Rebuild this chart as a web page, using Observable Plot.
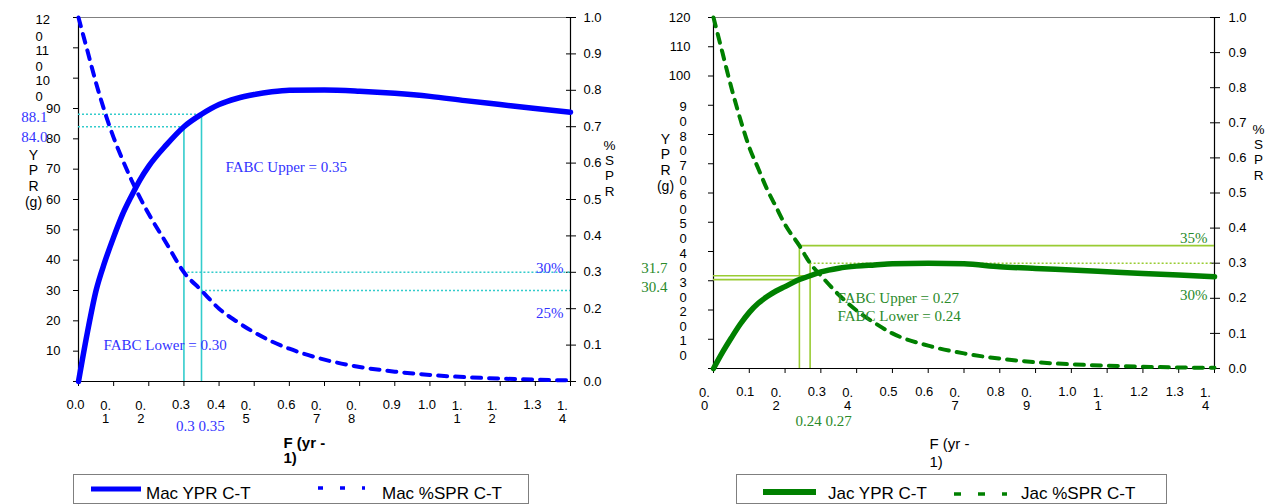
<!DOCTYPE html>
<html><head><meta charset="utf-8">
<script src="https://cdn.jsdelivr.net/npm/d3@7"></script>
<script src="https://cdn.jsdelivr.net/npm/@observablehq/plot@0.6"></script>
<style>
html,body{margin:0;padding:0;background:#fff;}
#wrap{position:relative;width:1270px;height:504px;overflow:hidden;font-family:"Liberation Sans",Arial,sans-serif;}
.panel{position:absolute;top:0;}
.legend{position:absolute;top:474px;height:30px;border:1px solid #7f7f7f;box-sizing:border-box;background:#fff;}
.legend span{position:absolute;font-size:17px;line-height:17px;color:#000;white-space:nowrap;}
.legend svg{position:absolute;left:0;top:0;}
</style></head><body><div id="wrap"></div>
<script>
// ---------- data ----------
const macF   = [0,0.025,0.05,0.075,0.1,0.125,0.15,0.175,0.2,0.25,0.3,0.35,0.4,0.45,0.5,0.55,0.6,0.7,0.8,0.9,1.0,1.1,1.2,1.3,1.4];
const macYPR = [0,16,30,39.5,47.6,55,61,66.5,71,78,84,88.1,91.3,93.3,94.6,95.5,96,96.1,95.7,95,94,92.6,91.3,90,88.8];
const macSPR = [1.0,0.91,0.82,0.74,0.67,0.61,0.555,0.505,0.46,0.38,0.30,0.25,0.20,0.165,0.135,0.11,0.09,0.06,0.04,0.027,0.018,0.012,0.008,0.005,0.003];

const jacF   = [0,0.025,0.05,0.075,0.1,0.125,0.15,0.175,0.2,0.24,0.27,0.3,0.35,0.4,0.45,0.5,0.6,0.7,0.8,0.9,1.0,1.1,1.2,1.3,1.4];
const jacYPR = [0,5.5,10.5,15.2,19.2,22.3,24.6,26.5,28,30.4,31.7,33,34.3,35,35.4,35.8,36,35.8,34.8,34.2,33.7,33.1,32.5,32,31.4];
const jacSPR = [1.0,0.90,0.80,0.71,0.63,0.57,0.51,0.46,0.41,0.35,0.30,0.265,0.21,0.165,0.13,0.10,0.065,0.043,0.028,0.018,0.012,0.008,0.005,0.003,0.002];

// reference points (FABC)
const macRefF   = [0.30, 0.35];
const macRefYPR = [84.0, 88.1];
const macRefSPR = [0.30, 0.25];
const jacRefF   = [0.24, 0.27];
const jacRefYPR = [30.4, 31.7];
const jacRefSPR = [0.35, 0.30];

// ticks and tick labels
const xTicks = [0,0.1,0.2,0.3,0.4,0.5,0.6,0.7,0.8,0.9,1.0,1.1,1.2,1.3,1.4];
const macXLabels = ["0.0","0.\n1","0.\n2","0.3","0.4","0.\n5","0.6","0.\n7","0.\n8","0.9","1.0","1.\n1","1.\n2","1.3","1.\n4"];
const jacXLabels = ["0.\n0","0.1","0.\n2","0.3","0.\n4","0.5","0.6","0.\n7","0.8","0.\n9","1.0","1.\n1","1.2","1.3","1.\n4"];
const yTicks = [0,10,20,30,40,50,60,70,80,90,100,110,120];
const macYLabels = ["","10","20","30","40","50","60","70","80","90","10\n0","11\n0","12\n0"];
const jacYLabels = ["","1\n0","2\n0","3\n0","4\n0","5\n0","6\n0","7\n0","8\n0","9\n0","100","110","120"];
const sprTicks = [0,0.1,0.2,0.3,0.4,0.5,0.6,0.7,0.8,0.9,1.0];
const sprLabels = ["0.0","0.1","0.2","0.3","0.4","0.5","0.6","0.7","0.8","0.9","1.0"];

const YMAX = 120, XMAX = 1.4;
const SANS = "Liberation Sans, Arial, sans-serif";
const SERIF = "Liberation Serif, Times New Roman, serif";

function panel(o) {
  const curve = o.F.map((f, i) => ({f, ypr: o.YPR[i], spr: o.SPR[i]}));
  const refs = o.refF.map((f, i) => ({f, ypr: o.refYPR[i], spr: o.refSPR[i]}));
  const xt = xTicks.map((v, i) => ({v, label: o.xLabels[i]}));
  const yt = yTicks.map((v, i) => ({v, label: o.yLabels[i]}));
  const st = sprTicks.map((v, i) => ({v: v * YMAX, label: sprLabels[i]}));
  const wrapped = d => d.label.includes("\n");
  const plain = d => !d.label.includes("\n");
  return Plot.plot({
    width: 635, height: 470,
    marginLeft: o.mL, marginRight: o.mR, marginTop: 17, marginBottom: o.mB,
    x: {domain: [0, XMAX]},
    y: {domain: [0, YMAX]},
    style: {fontFamily: SANS, fontSize: "13px", background: "transparent", overflow: "visible"},
    marks: [
      // frame
      Plot.ruleY([YMAX], {stroke: "#808080", strokeWidth: 1.2}),
      Plot.ruleX([0], {stroke: "#000", strokeWidth: 1.2}),
      Plot.ruleX([XMAX], {stroke: "#000", strokeWidth: 1.2}),
      Plot.ruleY([0], {stroke: "#000", strokeWidth: 1.2}),
      Plot.axisY({ticks: yTicks, tickSize: 5, fill: "none", label: null, stroke: "#000"}),
      Plot.axisY({anchor: "right", ticks: sprTicks.map(v => v * YMAX), tickSize: 10, dx: -5, fill: "none", label: null, stroke: "#000"}),
      Plot.axisX({ticks: xTicks, tickSize: 5, fill: "none", label: null, stroke: "#000"}),
      // tick labels
      Plot.text(xt, {filter: plain, x: "v", text: "label", frameAnchor: "bottom", textAnchor: "middle", lineAnchor: "top", dy: 18.5, dx: o.xdxPlain, fontSize: 13, fill: "#000"}),
      Plot.text(xt, {filter: wrapped, x: "v", text: "label", frameAnchor: "bottom", textAnchor: "middle", lineAnchor: "top", dy: 18.5, dx: o.xdxWrap, lineHeight: 1.05, fontSize: 13, fill: "#000"}),
      Plot.text(yt, {filter: d => d.label && plain(d), y: "v", text: "label", frameAnchor: "left", textAnchor: "end", dx: o.ydxPlain, fontSize: 13, fill: "#000"}),
      Plot.text(yt, {filter: wrapped, y: "v", text: "label", frameAnchor: "left", textAnchor: "start", lineAnchor: "top", dy: -4.6, dx: o.ydxWrap, lineHeight: o.yLH, fontSize: 13, fill: "#000"}),
      Plot.text(st, {y: "v", text: "label", frameAnchor: "right", textAnchor: "start", dx: o.rdx, fontSize: 13, fill: "#000"}),
      // axis titles
      Plot.text(["Y\nP\nR\n(g)"], {text: d => d, frameAnchor: "top-left", textAnchor: "middle", dx: o.ytDx, dy: o.ytDy, lineAnchor: "top", lineHeight: 1.12, fontSize: 14, fill: "#000"}),
      Plot.text(["%\nS\nP\nR"], {text: d => d, frameAnchor: "top-right", textAnchor: "middle", dx: o.rtDx, dy: o.rtDy, lineAnchor: "top", lineHeight: 1.12, fontSize: 13.5, fill: "#000"}),
      Plot.text(["F (yr -\n1)"], {text: d => d, frameAnchor: "bottom-left", textAnchor: "start", dx: o.xtDx, dy: o.xtDy, lineAnchor: "top", lineHeight: o.xtLH, fontSize: 15, fontWeight: o.xtWeight, fill: "#000"}),
      // reference lines
      Plot.ruleX(refs, {x: "f", y1: 0, y2: o.vTop === "spr" ? (d => d.spr * YMAX) : "ypr", stroke: o.refColor, strokeWidth: 1.6}),
      Plot.ruleY(refs, {y: "ypr", x1: 0, x2: o.hEnd, stroke: o.refColor, strokeWidth: 1.6, strokeDasharray: o.yprDash}),
      Plot.ruleY(refs, {filter: (d, i) => i === 0, y: d => d.spr * YMAX, x1: "f", x2: XMAX, stroke: o.refColor, strokeWidth: 1.6, strokeDasharray: o.spr0Dash}),
      Plot.ruleY(refs, {filter: (d, i) => i === 1, y: d => d.spr * YMAX, x1: "f", x2: XMAX, stroke: o.refColor, strokeWidth: 1.6, strokeDasharray: o.spr1Dash}),
      // series
      Plot.line(curve, {x: "f", y: d => d.spr * YMAX, stroke: o.color, strokeWidth: 4, strokeDasharray: "9,8", curve: "monotone-x"}),
      Plot.line(curve, {x: "f", y: "ypr", stroke: o.color, strokeWidth: 5.5, curve: "monotone-x"}),
      // annotations
      ...o.annotations(refs)
    ]
  });
}

const blueTxt = "#3333ff", greenTxt = "#2a8a2a";
const ann = (data, opts, color) => Plot.text(data, {fontFamily: SERIF, fontSize: 15, fill: color, ...opts});

const left = panel({
  F: macF, YPR: macYPR, SPR: macSPR, refF: macRefF, refYPR: macRefYPR, refSPR: macRefSPR,
  xLabels: macXLabels, yLabels: macYLabels, color: "#0000ff", refColor: "#33cccc",
  mL: 78, mR: 65, mB: 89,
  xdxPlain: -3, xdxWrap: -8, ydxPlain: -18, ydxWrap: -43, yLH: 1.25, rdx: 13,
  ytDx: -45, ytDy: 131, rtDx: 39, rtDy: 122,
  xtDx: 205, xtDy: 55.5, xtLH: 1.0, xtWeight: "bold",
  vTop: "ypr", hEnd: "f", yprDash: "2,2", spr0Dash: "2,2", spr1Dash: "2,2",
  annotations: refs => [
    ann([`FABC Upper = ${refs[1].f.toFixed(2)}`], {text: d => d, frameAnchor: "top-left", textAnchor: "start", dx: 147, dy: 144}, blueTxt),
    ann([`FABC Lower = ${refs[0].f.toFixed(2)}`], {text: d => d, frameAnchor: "top-left", textAnchor: "start", dx: 25, dy: 322}, blueTxt),
    ann([refs[0]], {y: d => d.spr * YMAX, text: d => Math.round(d.spr * 100) + "%", frameAnchor: "right", textAnchor: "end", dx: -7, dy: -4}, blueTxt),
    ann([refs[1]], {y: d => d.spr * YMAX, text: d => Math.round(d.spr * 100) + "%", frameAnchor: "right", textAnchor: "end", dx: -7, dy: 23}, blueTxt),
    ann([refs[1]], {y: "ypr", text: d => d.ypr.toFixed(1), frameAnchor: "left", textAnchor: "end", dx: -31, dy: 3}, blueTxt),
    ann([refs[0]], {y: "ypr", text: d => d.ypr.toFixed(1), frameAnchor: "left", textAnchor: "end", dx: -31, dy: 10}, blueTxt),
    ann([refs[0]], {x: "f", text: () => `${refs[0].f} ${refs[1].f}`, frameAnchor: "bottom", textAnchor: "start", dx: -8, dy: 49}, blueTxt)
  ]
});

const right = panel({
  F: jacF, YPR: jacYPR, SPR: jacSPR, refF: jacRefF, refYPR: jacRefYPR, refSPR: jacRefSPR,
  xLabels: jacXLabels, yLabels: jacYLabels, color: "#008000", refColor: "#99cc33",
  mL: 78, mR: 56, mB: 102,
  xdxPlain: -4, xdxWrap: -9, ydxPlain: -23, ydxWrap: -34, yLH: 1.15, rdx: 14,
  ytDx: -48, ytDy: 115, rtDx: 44, rtDy: 106,
  xtDx: 216, xtDy: 67.5, xtLH: 1.2, xtWeight: "normal",
  vTop: "spr", hEnd: "f", yprDash: null, spr0Dash: null, spr1Dash: "2,2",
  annotations: refs => [
    ann([`FABC Upper = ${refs[1].f.toFixed(2)}\nFABC Lower = ${refs[0].f.toFixed(2)}`], {text: d => d, frameAnchor: "top-left", textAnchor: "start", lineAnchor: "top", lineHeight: 1.2, dx: 124, dy: 272.5}, greenTxt),
    ann([refs[0]], {y: d => d.spr * YMAX, text: d => Math.round(d.spr * 100) + "%", frameAnchor: "right", textAnchor: "end", dx: -7, dy: -7}, greenTxt),
    ann([refs[1]], {y: d => d.spr * YMAX, text: d => Math.round(d.spr * 100) + "%", frameAnchor: "right", textAnchor: "end", dx: -7, dy: 32}, greenTxt),
    ann([refs[1]], {y: "ypr", text: d => d.ypr.toFixed(1), frameAnchor: "left", textAnchor: "end", dx: -46, dy: -8}, greenTxt),
    ann([refs[0]], {y: "ypr", text: d => d.ypr.toFixed(1), frameAnchor: "left", textAnchor: "end", dx: -46, dy: 8}, greenTxt),
    ann([refs[0]], {x: "f", text: () => `${refs[0].f} ${refs[1].f}`, frameAnchor: "bottom", textAnchor: "start", dx: -4, dy: 57}, greenTxt)
  ]
});

const wrap = document.getElementById("wrap");
left.classList.add("panel"); left.style.left = "0px";
right.classList.add("panel"); right.style.left = "635px";
wrap.appendChild(left);
wrap.appendChild(right);

function legend(x, w, color, solidLabel, dashLabel, o) {
  const div = document.createElement("div");
  div.className = "legend";
  div.style.left = x + "px"; div.style.width = w + "px";
  const ns = "http://www.w3.org/2000/svg";
  const svg = document.createElementNS(ns, "svg");
  svg.setAttribute("width", w); svg.setAttribute("height", 30);
  const l1 = document.createElementNS(ns, "line");
  l1.setAttribute("x1", o.s1); l1.setAttribute("x2", o.s2); l1.setAttribute("y1", o.sy); l1.setAttribute("y2", o.sy);
  l1.setAttribute("stroke", color); l1.setAttribute("stroke-width", o.sw);
  const l2 = document.createElementNS(ns, "line");
  l2.setAttribute("x1", o.d1); l2.setAttribute("x2", o.d2); l2.setAttribute("y1", o.dy); l2.setAttribute("y2", o.dy);
  l2.setAttribute("stroke", color); l2.setAttribute("stroke-width", 3.5); l2.setAttribute("stroke-dasharray", o.dash);
  svg.appendChild(l1); svg.appendChild(l2);
  div.appendChild(svg);
  const t1 = document.createElement("span"); t1.textContent = solidLabel; t1.style.left = o.t1 + "px"; t1.style.top = "10px";
  const t2 = document.createElement("span"); t2.textContent = dashLabel; t2.style.left = o.t2 + "px"; t2.style.top = "10px";
  div.appendChild(t1); div.appendChild(t2);
  wrap.appendChild(div);
}
legend(73, 456, "#0000ff", "Mac YPR C-T", "Mac %SPR C-T", {s1: 17, s2: 67, sy: 14, sw: 5, d1: 244, d2: 291, dy: 13, dash: "5,17", t1: 72, t2: 308});
legend(736, 431, "#008000", "Jac YPR C-T", "Jac %SPR C-T", {s1: 26, s2: 79, sy: 17, sw: 6, d1: 217, d2: 270, dy: 19, dash: "7,17", t1: 91, t2: 284});
</script></body></html>
